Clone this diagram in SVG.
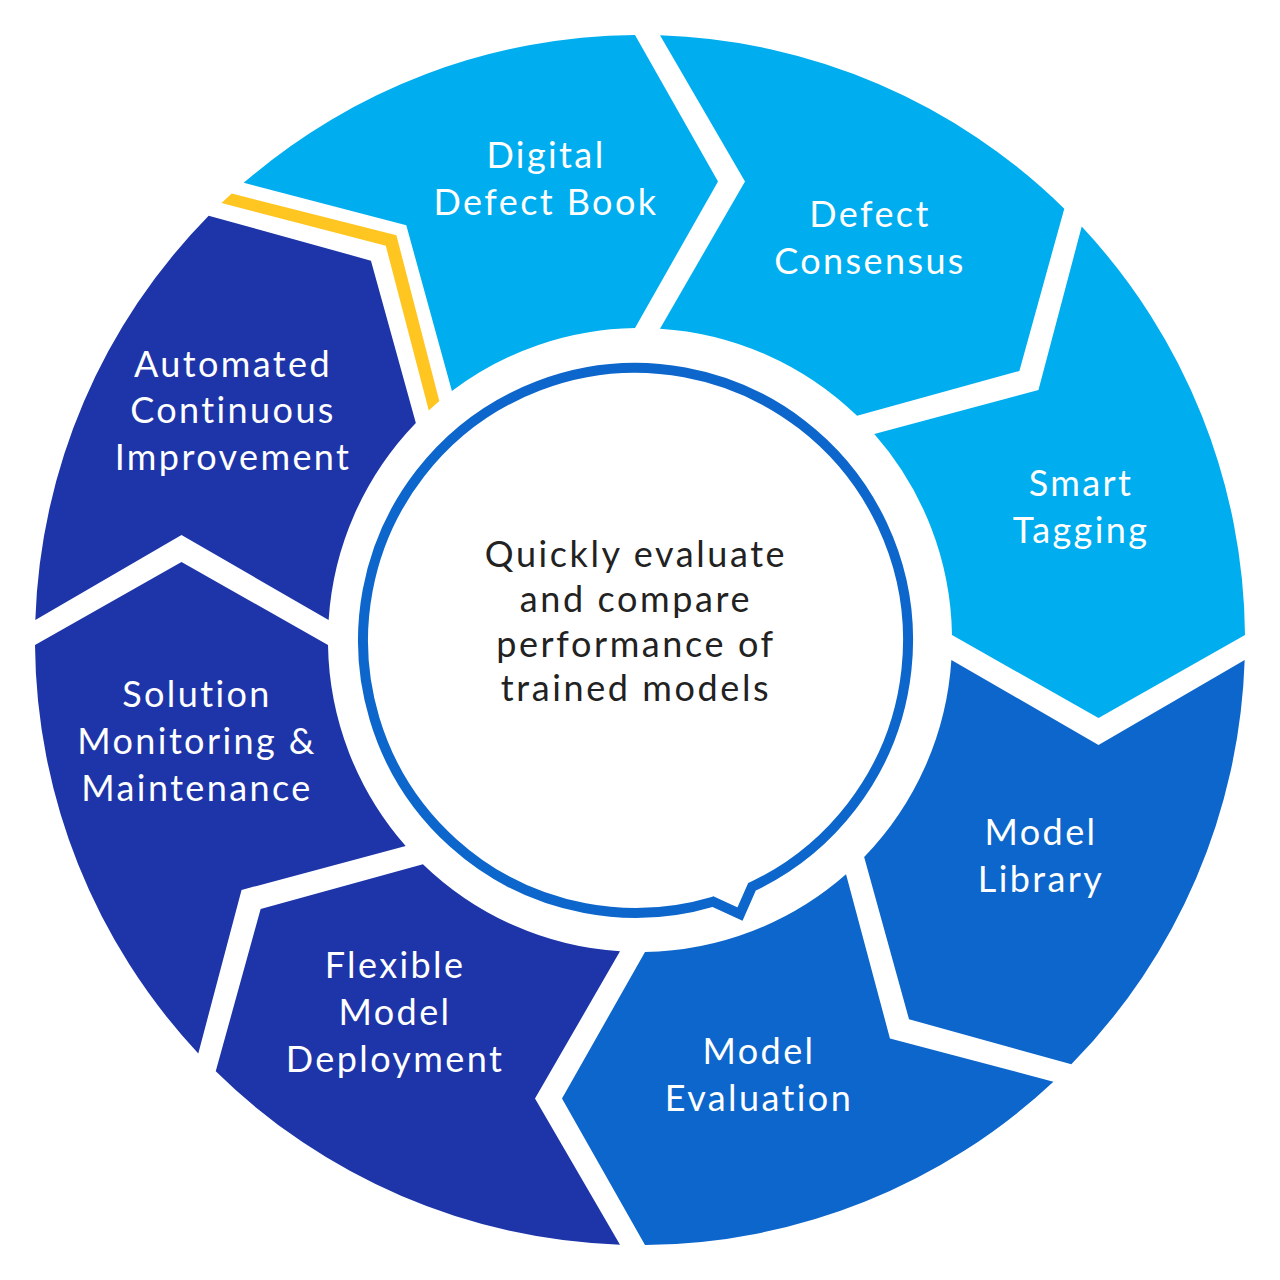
<svg xmlns="http://www.w3.org/2000/svg" width="1280" height="1280" viewBox="0 0 1280 1280">
  <defs>
    <style>
      .light { fill: #00AEEF; }
      .mid { fill: #0C66CC; }
      .dark { fill: #1D35A8; }
      .lbl { font-family: Lato, "Open Sans", "Liberation Sans", sans-serif; font-size: 36px; letter-spacing: 2.4px; fill: #FFFFFF; text-anchor: middle; }
      .ctr { font-family: Lato, "Open Sans", "Liberation Sans", sans-serif; font-size: 36px; letter-spacing: 2.6px; fill: #222222; text-anchor: middle; }
    </style>
    <path id="seg" d="M -5,-605 L 78,-458.5 L -5,-312 A 312 312 0 0 0 -206.03,-234.31 L -249.96,-398.46 L -413.43,-441.71 A 605 605 0 0 1 -5,-605 Z"/>
  </defs>
  <rect width="1280" height="1280" fill="#FFFFFF"/>

  <g id="digital-defect-book">
    <path class="light" transform="translate(640,640)" d="M -5,-605 L 78,-458.5 L -5,-312 A 312 312 0 0 0 -188.10,-248.92 L -233.70,-414.72 L -396.31,-457.13 A 605 605 0 0 1 -5,-605 Z"/>
    <text class="lbl"><tspan x="546" y="168">Digital</tspan><tspan x="546" y="215">Defect Book</tspan></text>
  </g>
  <g id="defect-consensus">
    <use href="#seg" class="light" transform="translate(640,640) rotate(45)"/>
    <text class="lbl"><tspan x="870" y="227">Defect</tspan><tspan x="870" y="274">Consensus</tspan></text>
  </g>
  <g id="smart-tagging">
    <use href="#seg" class="light" transform="translate(640,640) rotate(90)"/>
    <text class="lbl"><tspan x="1081" y="496">Smart</tspan><tspan x="1081" y="543">Tagging</tspan></text>
  </g>
  <g id="model-library">
    <use href="#seg" class="mid" transform="translate(640,640) rotate(135)"/>
    <text class="lbl"><tspan x="1041" y="845">Model</tspan><tspan x="1041" y="892">Library</tspan></text>
  </g>
  <g id="model-evaluation">
    <use href="#seg" class="mid" transform="translate(640,640) rotate(180)"/>
    <text class="lbl"><tspan x="759" y="1064">Model</tspan><tspan x="759" y="1111">Evaluation</tspan></text>
  </g>
  <g id="flexible-model-deployment">
    <use href="#seg" class="dark" transform="translate(640,640) rotate(225)"/>
    <text class="lbl"><tspan x="395" y="978">Flexible</tspan><tspan x="395" y="1025">Model</tspan><tspan x="395" y="1072">Deployment</tspan></text>
  </g>
  <g id="solution-monitoring">
    <use href="#seg" class="dark" transform="translate(640,640) rotate(270)"/>
    <text class="lbl"><tspan x="197" y="707">Solution</tspan><tspan x="197" y="754">Monitoring &amp;</tspan><tspan x="197" y="801">Maintenance</tspan></text>
  </g>
  <g id="automated-continuous-improvement">
    <use href="#seg" class="dark" transform="translate(640,640) rotate(315)"/>
    <text class="lbl"><tspan x="233" y="377">Automated</tspan><tspan x="233" y="423">Continuous</tspan><tspan x="233" y="470">Improvement</tspan></text>
  </g>

  <g id="connectors">
    <polygon fill="#FFC520" transform="translate(640,640) rotate(-45)" points="13,-604.86 99,-458.5 13,-311.73 27,-310.83 114,-458.5 27,-604.4"/>
  </g>

  <g id="center">
    <path d="M 713,901.7 A 272.5 272.5 0 1 1 752,886.8 L 740,914 Z" fill="#FFFFFF" stroke="#0C66CC" stroke-width="10" stroke-linejoin="miter"/>
    <text class="ctr"><tspan x="636" y="567">Quickly evaluate</tspan><tspan x="636" y="612">and compare</tspan><tspan x="636" y="657">performance of</tspan><tspan x="636" y="701">trained models</tspan></text>
  </g>
</svg>
